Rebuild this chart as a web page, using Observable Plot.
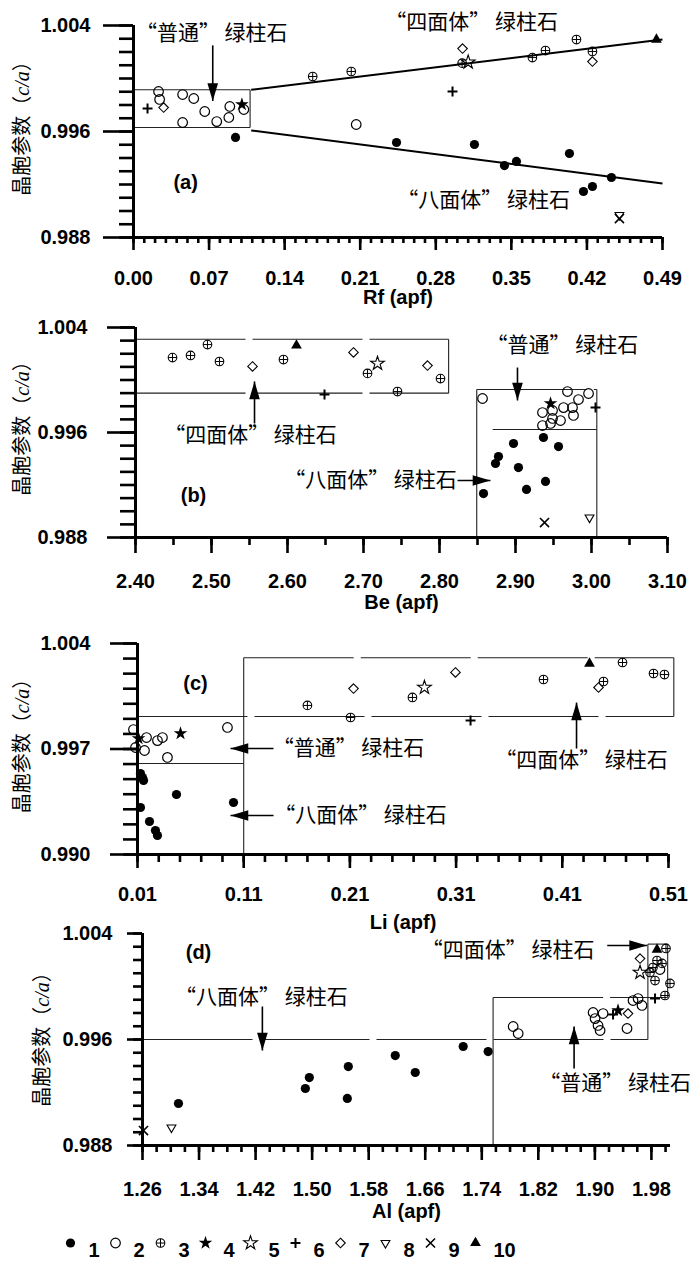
<!DOCTYPE html>
<html><head><meta charset="utf-8">
<script src="https://cdn.jsdelivr.net/npm/d3@7"></script>
<script src="https://cdn.jsdelivr.net/npm/@observablehq/plot@0.6"></script>
<style>
body{margin:0;background:#fff;}
#root{position:relative;width:690px;height:1266px;overflow:hidden;background:#fff;}
.panel{position:absolute;left:0;}
</style></head><body><div id="root"></div>
<script>
// ---------------- DATA ----------------
// point tuples: [x, y, legend type 1..10]
const rfPoints = [
  [0.0232,0.99902,2],[0.0242,0.99842,2],[0.0455,0.99879,2],[0.0558,0.99849,2],[0.0455,0.99668,2],
  [0.0660,0.99751,2],[0.0771,0.99675,2],[0.0883,0.99706,2],[0.0892,0.99789,2],[0.1022,0.99766,2],
  [0.0130,0.99774,6],[0.0279,0.99781,7],[0.1004,0.99804,4],[0.0945,0.99555,1],
  [0.1660,1.00015,3],[0.2017,1.00053,3],[0.2063,0.99653,2],
  [0.2955,0.99902,6],[0.3048,1.00226,7],[0.3044,1.00116,3],[0.3100,1.00123,5],
  [0.3695,1.00158,3],[0.3816,1.00211,3],[0.4103,1.00294,3],[0.4251,1.00204,3],[0.4251,1.00128,7],
  [0.4844,1.00294,10],
  [0.2436,0.99517,1],[0.3158,0.99502,1],[0.3436,0.99343,1],[0.3547,0.99374,1],[0.4038,0.99434,1],
  [0.4427,0.99253,1],[0.4168,0.99147,1],[0.4251,0.99185,1],
  [0.4501,0.98943,9],[0.4501,0.98970,8]
];
const bePoints = [
  [2.4487,1.00171,3],[2.4724,1.00187,3],[2.4947,1.00270,3],[2.5105,1.00141,3],[2.5540,1.00103,7],
  [2.5947,1.00156,3],[2.6118,1.00263,10],[2.6487,0.99890,6],[2.6868,1.00210,7],[2.7053,1.00050,3],
  [2.7184,1.00126,5],[2.7447,0.99912,3],[2.7842,1.00110,7],[2.8013,1.00011,3],
  [2.8566,0.99859,2],[2.9684,0.99912,2],[2.9961,0.99897,2],[2.9829,0.99851,2],[2.9355,0.99752,2],
  [2.9487,0.99768,2],[2.9632,0.99790,2],[2.9750,0.99790,2],[2.9763,0.99730,2],[2.9487,0.99707,2],
  [2.9592,0.99691,2],[2.9355,0.99653,2],[2.9461,0.99669,2],
  [2.9461,0.99821,4],[3.0053,0.99790,6],
  [2.8974,0.99516,1],[2.9368,0.99562,1],[2.9566,0.99493,1],[2.8776,0.99417,1],[2.8737,0.99364,1],
  [2.9039,0.99333,1],[2.9395,0.99227,1],[2.9145,0.99166,1],[2.8579,0.99135,1],
  [2.9382,0.98914,9],[2.9974,0.98952,8]
];
const liPoints = [
  [0.0062,0.99829,2],[0.0185,0.99776,2],[0.0288,0.99756,2],[0.0335,0.99776,2],[0.0081,0.99710,2],
  [0.0166,0.99690,2],[0.0382,0.99644,2],[0.0947,0.99843,2],
  [0.0505,0.99803,4],[0.0110,0.99770,4],
  [0.0128,0.99537,1],[0.0147,0.99511,1],[0.0157,0.99491,1],[0.0128,0.99312,1],[0.0213,0.99219,1],
  [0.0269,0.99159,1],[0.0288,0.99126,1],[0.0467,0.99398,1],[0.1004,0.99345,1],
  [0.2134,1.00101,7],[0.1700,0.99989,3],[0.2106,0.99909,3],[0.2689,1.00042,3],[0.2802,1.00108,5],
  [0.3236,0.99889,6],[0.3094,1.00208,7],[0.3923,1.00161,3],[0.4356,1.00267,10],[0.4667,1.00274,3],
  [0.4441,1.00108,7],[0.4488,1.00148,3],[0.4959,1.00201,3],[0.5062,1.00194,3]
];
const alPoints = [
  [1.2614,0.98913,9],[1.3010,0.98936,8],[1.3109,0.99117,1],[1.4904,0.99230,1],[1.4960,0.99313,1],
  [1.5512,0.99396,1],[1.5498,0.99155,1],[1.6176,0.99479,1],[1.6459,0.99351,1],[1.7137,0.99547,1],
  [1.7490,0.99509,1],
  [1.7844,0.99698,2],[1.7915,0.99645,2],
  [1.8975,0.99804,2],[1.9116,0.99796,2],[1.9003,0.99758,2],[1.9045,0.99706,2],[1.9074,0.99668,2],
  [1.9455,0.99683,2],[1.9540,0.99894,2],[1.9611,0.99909,2],[1.9667,0.99857,2],
  [1.9328,0.99819,4],[1.9257,0.99789,6],[1.9469,0.99796,7],
  [1.9851,0.99909,6],[1.9992,0.99932,3],[2.0063,1.00023,3],[1.9851,1.00045,3],
  [1.9639,1.00211,7],[1.9639,1.00106,5],[2.0006,1.00287,3],[1.9879,1.00279,10],[1.9879,1.00196,3],
  [1.9950,1.00174,3],[1.9822,1.00143,3],[1.9921,1.00128,2],[1.9780,1.00106,3]
];

// region boundaries [x1, y1, x2, y2]
const rfSolid = [[0,0.99915,0.108,0.99915],[0.108,0.99915,0.108,0.9963],[0,0.9963,0.108,0.9963]];
const rfDashed = [];
const rfTrend = [[0.109,0.99915,0.49,1.00294],[0.109,0.99608,0.49,0.99208]];
const beSolid = [[2.812,1.0031,2.812,0.9990],[2.849,0.988,2.849,0.99928],[3.007,0.99928,3.007,0.988]];
const beDashed = [[2.40,1.0031,2.812,1.0031],[2.40,0.9990,2.812,0.9990],[2.849,0.99928,3.007,0.99928],[2.87,0.99623,3.007,0.99623]];
const liSolid = [[0.11,0.990,0.11,1.00305],[0.515,1.00305,0.515,0.99916]];
const liDashed = [[0.11,1.00305,0.515,1.00305],[0.01,0.99916,0.515,0.99916],[0.01,0.99604,0.11,0.99604]];
const alSolid = [[1.756,0.988,1.756,0.99917],[1.975,1.0032,1.975,0.996],[1.975,1.0032,2.003,1.0032],[2.003,1.0032,2.003,0.99917]];
const alDashed = [[1.26,0.996,1.975,0.996],[1.756,0.99917,2.003,0.99917]];

// arrows [tailX, tailY, tipX, tipY]
const rfArrows = [[0.0734,1.0025,0.0734,0.9983]];
const beArrows = [[2.5566,0.99669,2.5566,0.99989],[2.9026,1.00095,2.9026,0.99844],[2.8237,0.99234,2.867,0.99234]];
const liArrows = [[0.1381,0.99703,0.0976,0.99703],[0.1381,0.99259,0.0976,0.99259],[0.4234,0.99703,0.4234,1.00008]];
const alArrows = [[1.4296,0.99849,1.4296,0.99517],[1.9175,1.00309,1.9738,1.00309],[1.8706,0.99381,1.8706,0.99698]];

// annotations [x, y, text]
const rfNotes = [[0.0725,1.0034,"“普通” 绿柱石"],[0.3132,1.00423,"“四面体” 绿柱石"],[0.3243,0.99079,"“八面体” 绿柱石"]];
const beNotes = [[2.5513,0.99577,"“四面体” 绿柱石"],[2.9618,1.00263,"“普通” 绿柱石"],[2.7092,0.99234,"“八面体” 绿柱石"]];
const liNotes = [[0.2087,0.99703,"“普通” 绿柱石"],[0.2200,0.99259,"“八面体” 绿柱石"],[0.4281,0.99624,"“四面体” 绿柱石"]];
const alNotes = [[1.4282,0.99917,"“八面体” 绿柱石"],[1.7773,1.00272,"“四面体” 绿柱石"],[1.9286,0.99268,"“普通” 绿柱石"]];
const panelTags = [[0.0483,0.99215,"(a)"],[2.4763,0.9912,"(b)"],[0.0646,1.00135,"(c)"],[1.3392,1.00257,"(d)"]];

// ticks
const rfTicks = [0,0.07,0.14,0.21,0.28,0.35,0.42,0.49];
const beTicks = [2.40,2.50,2.60,2.70,2.80,2.90,3.00,3.10];
const liTicks = [0.01,0.11,0.21,0.31,0.41,0.51];
const alTicks = [1.26,1.34,1.42,1.50,1.58,1.66,1.74,1.82,1.90,1.98];
const yTicks988 = [0.988,0.996,1.004];
const yTicks990 = [0.990,0.997,1.004];
const xLabels = ["Rf (apf)","Be (apf)","Li (apf)","Al (apf)"];
const YLABEL = "晶胞参数（c/a）";
const legendLabels = ["1","2","3","4","5","6","7","8","9","10"];

// ---------------- STYLE ----------------
const FONT = "Liberation Sans, Arial, sans-serif";
const CJK = "Noto Sans CJK SC, sans-serif";
const triDown = {draw(c, size){const s=Math.sqrt(size)*0.6824,t=s/2,u=s*Math.sqrt(3)/2;c.moveTo(0,s);c.lineTo(u,-t);c.lineTo(-u,-t);c.closePath();}};
function headSym(dir){return {draw(c,size){const l=Math.sqrt(size),w=l*0.3;
  const p = dir==="up"?[[0,0],[w,l],[-w,l]]:dir==="down"?[[0,0],[w,-l],[-w,-l]]:dir==="right"?[[0,0],[-l,w],[-l,-w]]:[[0,0],[l,w],[l,-w]];
  c.moveTo(p[0][0],p[0][1]);c.lineTo(p[1][0],p[1][1]);c.lineTo(p[2][0],p[2][1]);c.closePath();}};}
const SYM = {
  1:[{symbol:"circle",r:4.6,fill:"black",stroke:"none"}],
  2:[{symbol:"circle",r:4.8,fill:"none",stroke:"black",strokeWidth:1.2}],
  3:[{symbol:"circle",r:4.3,fill:"none",stroke:"black",strokeWidth:1.1},{symbol:"plus",r:2.8,stroke:"black",strokeWidth:1}],
  4:[{symbol:"star",r:4.3,fill:"black",stroke:"none"}],
  5:[{symbol:"star",r:4.3,fill:"none",stroke:"black",strokeWidth:1.1}],
  6:[{symbol:"plus",r:3.3,stroke:"black",strokeWidth:2}],
  7:[{symbol:"diamond2",r:4.3,fill:"none",stroke:"black",strokeWidth:1.1}],
  8:[{symbol:triDown,r:4.2,fill:"none",stroke:"black",strokeWidth:1.1}],
  9:[{symbol:"times",r:4.2,stroke:"black",strokeWidth:1.6}],
  10:[{symbol:"triangle",r:4,fill:"black",stroke:"none"}]
};
function symbolMarks(data, typeOf, channels){
  const out=[];
  for(let t=1;t<=10;t++){
    const sub=data.filter(d=>typeOf(d)===t);
    if(!sub.length) continue;
    for(const layer of SYM[t]) out.push(Plot.dot(sub,{...channels,...layer}));
  }
  return out;
}
const seg = {x1:d=>d[0],y1:d=>d[1],x2:d=>d[2],y2:d=>d[3]};
function arrowMarks(arrows){
  const dirOf = d => d[0]!==d[2] ? (d[2]>d[0]?"right":"left") : (d[3]>d[1]?"up":"down");
  const out=[Plot.link(arrows,{...seg,stroke:"black",strokeWidth:1.6})];
  for(const dir of ["up","down","left","right"]){
    const sub=arrows.filter(d=>dirOf(d)===dir);
    if(sub.length) out.push(Plot.dot(sub,{x:d=>d[2],y:d=>d[3],symbol:headSym(dir),r:10,fill:"black",stroke:"none"}));
  }
  return out;
}
function minorTicks(a,b,step){const n=Math.round((b-a)/step);return d3.range(n+1).map(i=>+(a+i*step).toFixed(4));}

function panel(cfg){
  const svg = Plot.plot({
    width:690, height:cfg.height,
    marginLeft:cfg.mL, marginRight:cfg.mR, marginTop:cfg.mT, marginBottom:cfg.mB,
    x:{domain:cfg.xDomain}, y:{domain:cfg.yDomain},
    style:{overflow:"visible",background:"transparent",fontFamily:FONT,color:"black"},
    marks:[
      Plot.link(cfg.solid,{...seg,stroke:"#222",strokeWidth:1.1}),
      Plot.link(cfg.dashed,{...seg,stroke:"#222",strokeWidth:1.1,strokeDasharray:"110,7"}),
      Plot.link(cfg.trend||[],{...seg,stroke:"black",strokeWidth:2}),
      ...symbolMarks(cfg.points,d=>d[2],{x:d=>d[0],y:d=>d[1]}),
      ...arrowMarks(cfg.arrows),
      Plot.text(cfg.notes,{x:d=>d[0],y:d=>d[1],text:d=>d[2],fontFamily:CJK,fontSize:21,fill:"black"}),
      Plot.text([cfg.tag],{x:d=>d[0],y:d=>d[1],text:d=>d[2],fontSize:20,fontWeight:"bold",fill:"black"}),
      Plot.text([cfg.xlabel],{frameAnchor:"bottom",dy:cfg.xlabDy,text:d=>d,fontSize:20,fontWeight:"bold",fill:"black"}),
      Plot.text([YLABEL],{frameAnchor:"left",textAnchor:"middle",lineAnchor:"middle",dx:cfg.ylabDx,dy:cfg.ylabDy,rotate:-90,text:d=>d,fontFamily:CJK,fontSize:20,fill:"black"}),
      Plot.axisY({ticks:cfg.yMajor,tickSize:cfg.ty[0],tickPadding:cfg.ty[1],tickFormat:d=>d.toFixed(3),fontSize:20,fontWeight:"bold",strokeWidth:2.6,label:null}),
      Plot.axisY({ticks:cfg.yMinor,tickSize:cfg.ty[2],tickFormat:()=>"",strokeWidth:2.6,label:null}),
      Plot.axisX({ticks:cfg.xMajor,tickSize:cfg.tx[0],tickPadding:cfg.tx[1],tickFormat:d=>d.toFixed(2),fontSize:20,fontWeight:"bold",strokeWidth:2.6,label:null}),
      Plot.axisX({ticks:cfg.xMinor,tickSize:cfg.tx[2],tickFormat:()=>"",strokeWidth:2.6,label:null}),
      Plot.ruleX([cfg.xDomain[0]],{stroke:"black",strokeWidth:3}),
      Plot.ruleY([cfg.yDomain[0]],{stroke:"black",strokeWidth:3})
    ]
  });
  d3.select(svg).selectAll("text").filter(function(){return this.textContent===YLABEL;}).each(function(){
    const t=d3.select(this); t.text(null);
    t.append("tspan").text("晶胞参数（");
    t.append("tspan").attr("font-family","Liberation Serif, serif").attr("font-style","italic").text("c/a");
    t.append("tspan").text("）");
  });
  const div=document.createElement("div"); div.className="panel"; div.style.top=cfg.top+"px";
  div.appendChild(svg); document.getElementById("root").appendChild(div);
}

panel({top:0,height:305,mL:133,mR:28,mT:25,mB:68,xDomain:[0,0.49],yDomain:[0.988,1.004],
  xMajor:rfTicks,xMinor:minorTicks(0,0.49,0.01),yMajor:yTicks988,yMinor:minorTicks(0.988,1.004,0.001),
  ty:[30,13,14],tx:[13,20,6],points:rfPoints,solid:rfSolid,dashed:rfDashed,trend:rfTrend,arrows:rfArrows,
  notes:rfNotes,tag:panelTags[0],xlabel:xLabels[0],xlabDy:66,ylabDx:-111,ylabDy:-8});
panel({top:305,height:305,mL:135,mR:23,mT:22,mB:73,xDomain:[2.40,3.10],yDomain:[0.988,1.004],
  xMajor:beTicks,xMinor:minorTicks(2.40,3.10,0.05),yMajor:yTicks988,yMinor:minorTicks(0.988,1.004,0.001),
  ty:[28,20,15],tx:[16,20,8],points:bePoints,solid:beSolid,dashed:beDashed,arrows:beArrows,
  notes:beNotes,tag:panelTags[1],xlabel:xLabels[1],xlabDy:71,ylabDx:-113,ylabDy:-9});
panel({top:610,height:315,mL:137,mR:22,mT:33,mB:71,xDomain:[0.01,0.51],yDomain:[0.990,1.004],
  xMajor:liTicks,xMinor:minorTicks(0.01,0.51,0.02),yMajor:yTicks990,yMinor:minorTicks(0.990,1.004,0.001),
  ty:[27,20,14],tx:[14,18,8],points:liPoints,solid:liSolid,dashed:liDashed,arrows:liArrows,
  notes:liNotes,tag:panelTags[2],xlabel:xLabels[2],xlabDy:74,ylabDx:-115,ylabDy:-8});
panel({top:925,height:300,mL:142,mR:20,mT:8,mB:80,xDomain:[1.26,2.007],yDomain:[0.988,1.004],
  xMajor:alTicks,xMinor:minorTicks(1.26,2.00,0.02),yMajor:yTicks988,yMinor:minorTicks(0.988,1.004,0.001),
  ty:[15,15,9],tx:[15,21,7],points:alPoints,solid:alSolid,dashed:alDashed,arrows:alArrows,
  notes:alNotes,tag:panelTags[3],xlabel:xLabels[3],xlabDy:72,ylabDx:-100,ylabDy:-5});

// legend
const legendData = legendLabels.map((k,i)=>[k,i+1]);
const leg = Plot.plot({
  width:690,height:41,margin:0,
  x:{type:"point",domain:legendLabels,range:[70,475],padding:0,axis:null},
  style:{overflow:"visible",background:"transparent",fontFamily:FONT,color:"black"},
  marks:[
    ...symbolMarks(legendData,d=>d[1],{x:d=>d[0],dy:-3}),
    Plot.text(legendData,{x:d=>d[0],text:d=>d[0],dx:18,dy:5,textAnchor:"start",fontSize:20,fontWeight:"bold",fill:"black"})
  ]
});
const ld=document.createElement("div"); ld.className="panel"; ld.style.top="1225px"; ld.appendChild(leg);
document.getElementById("root").appendChild(ld);
</script></body></html>
